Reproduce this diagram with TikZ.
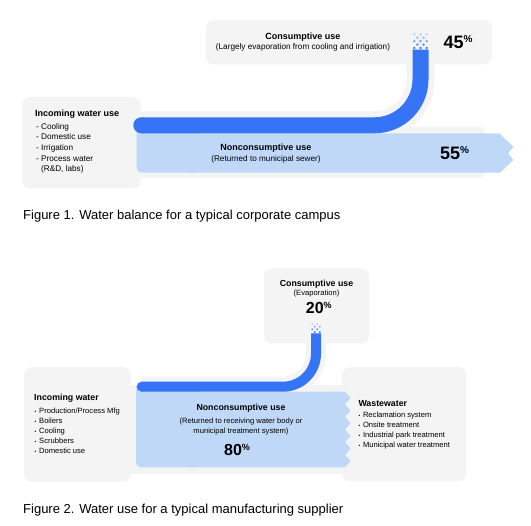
\documentclass[tikz,border=0pt]{standalone}
\usepackage{fontspec}
\setmainfont{Liberation Sans}
\definecolor{boxgray}{HTML}{F4F4F4}
\definecolor{lightblue}{HTML}{C0D8F8}
\definecolor{darkblue}{HTML}{3574F4}
\newcommand\fsz[1]{\fontsize{#1}{#1}\selectfont}
\begin{document}
\begin{tikzpicture}[x=1pt,y=-1pt,
  panel/.style={fill=boxgray, rounded corners=8pt, inner sep=0pt, anchor=north west},
  lbl/.style={inner sep=0pt, anchor=base west},
  ctr/.style={inner sep=0pt, anchor=base},
  ttl/.style={font=\fsz{9}\bfseries},
  sub/.style={font=\fsz{8.2}},
  ttltwo/.style={font=\fsz{8.8}\bfseries},
  subtwo/.style={font=\fsz{7.6}},
  figcap/.style={font=\fsz{13}},
  halo/.style={draw=boxgray, line width=#1},
  flow/.style={draw=darkblue, line width=#1}
]
\useasboundingbox (0,0) rectangle (531,526);
\fill[white] (0,0) rectangle (531,526);

% ================= Figure 1 =================
\coordinate (a1) at (141.3,125.3);
\coordinate (b1) at (374.5,125.3);
\coordinate (e1) at (420.5,79.3);
\coordinate (h1) at (420.5,60);
\coordinate (t1) at (420.5,49.7);
% gray bands / halos
\fill[boxgray, rounded corners=4pt] (130,126.7) rectangle (484,178);
\path[halo=28pt] (a1) -- (b1) .. controls (399.9,125.3) and (420.5,104.7) .. (e1) -- (h1);
% panels
\node[panel, minimum width=286pt, minimum height=44.3pt] (c1box) at (205.7,20) {};
\node[panel, minimum width=118.5pt, minimum height=91.6pt] (i1box) at (22,96.7) {};
% light blue flow
\fill[lightblue, rounded corners=5pt] (136.7,126) rectangle (200,172.7);
\fill[lightblue] (190,133.3) -- (499.3,133.3) -- (513.3,146.7) -- (508.3,153.5) -- (513.3,160) -- (500,172.7) -- (190,172.7) -- cycle;
% dark blue flow
\path[flow=16pt] (a1) -- (b1) .. controls (399.9,125.3) and (420.5,104.7) .. (e1) -- (t1);
\fill[darkblue] (a1) circle[radius=8pt];
% dither
\foreach \r in {0,...,4}{
  \foreach \k in {0,...,4}{
    \pgfmathtruncatemacro\chk{mod(\r+\k,2)}
    \pgfmathsetmacro\op{0.22+0.18*\r}
    \ifnum\chk=0
      \fill[darkblue, fill opacity=\op] (412.7+3.12*\k+1.56, 32.7+3.4*\r+1.7) circle[radius=1.45pt];
    \fi
  }
}
% texts
\node[ctr, ttl] (c1t) at (303,40) {Consumptive use};
\node[ctr, sub] (c1s) at (303,50) {(Largely evaporation from cooling and irrigation)};
\node[lbl] (c1p) at (443.3,48.3) {\fsz{18}\bfseries 45\raisebox{5.5pt}{\fsz{10}\%}};
\node[lbl, ttl] (i1t) at (35,116.7) {Incoming water use};
\foreach \t [count=\i from 0] in {Cooling, Domestic use, Irrigation, Process water}
  \node[lbl, sub] (i1b\i) at (36,129.3+10.6*\i) {\makebox[5pt][l]{-}\t};
\node[lbl, sub] (i1b4) at (41,171.7) {(R\&D, labs)};
\node[ctr, ttl] (n1t) at (266,150.7) {Nonconsumptive use};
\node[ctr, sub] (n1s) at (266,161.7) {(Returned to municipal sewer)};
\node[lbl] (n1p) at (440,159.3) {\fsz{18}\bfseries 55\raisebox{5.5pt}{\fsz{10}\%}};
\node[lbl, figcap] (cap1) at (23,219.3) {Figure 1. Water balance for a typical corporate campus};

% ================= Figure 2 =================
\coordinate (a2) at (141.7,386.7);
\coordinate (b2) at (283,386.7);
\coordinate (e2) at (316,353.7);
\coordinate (h2) at (316,335);
\coordinate (t2) at (316,333.3);
\fill[boxgray] (128,384.7) rectangle (344,474.5);
\path[halo=20pt] (a2) -- (b2) .. controls (301.2,386.7) and (316,371.9) .. (e2) -- (h2);
\node[panel, minimum width=105pt, minimum height=75pt] (c2box) at (264,268.3) {};
\node[panel, minimum width=106.7pt, minimum height=114.5pt] (i2box) at (24,367) {};
\node[panel, minimum width=124.5pt, minimum height=114pt] (w2box) at (341.7,367) {};
% light blue
\fill[lightblue, rounded corners=5pt] (136,384) rectangle (200,467.3);
\fill[lightblue] (190,391.7) -- (345,391.7)
  \foreach \j in {0,...,5}{ -- (350.5,391.7+12.6*\j+6.3) -- (345,391.7+12.6*\j+12.6) }
  -- (190,467.3) -- cycle;
% dark blue
\path[flow=10pt] (a2) -- (b2) .. controls (301.2,386.7) and (316,371.9) .. (e2) -- (t2);
\fill[darkblue] (a2) circle[radius=5pt];
\foreach \r in {0,...,3}{
  \foreach \k in {0,...,3}{
    \pgfmathtruncatemacro\chk{mod(\r+\k,2)}
    \pgfmathsetmacro\op{0.25+0.22*\r}
    \ifnum\chk=0
      \fill[darkblue, fill opacity=\op] (311+2.5*\k+1.25, 322.7+2.65*\r+1.32) circle[radius=1.1pt];
    \fi
  }
}
% texts
\node[ctr, ttltwo] (c2t) at (316.5,286.3) {Consumptive use};
\node[ctr, subtwo] (c2s) at (316.5,295.6) {(Evaporation)};
\node[lbl] (c2p) at (305.7,314) {\fsz{16}\bfseries 20\raisebox{5pt}{\fsz{9}\%}};
\node[lbl, ttltwo] (i2t) at (34,400.7) {Incoming water};
\foreach \t [count=\i from 0] in {Production/Process Mfg, Boilers, Cooling, Scrubbers, Domestic use}
  \node[lbl, subtwo] (i2b\i) at (34.5,413.3+10*\i) {\makebox[4.5pt][l]{\fsz{5}•}\t};
\node[ctr, ttltwo] (n2t) at (241,410.5) {Nonconsumptive use};
\node[ctr, subtwo] (n2s1) at (241,423.3) {(Returned to receiving water body or};
\node[ctr, subtwo] (n2s2) at (241,433.3) {municipal treatment system)};
\node[lbl] (n2p) at (224,456) {\fsz{16}\bfseries 80\raisebox{5pt}{\fsz{9}\%}};
\node[lbl, ttltwo] (w2t) at (358.3,406.3) {Wastewater};
\foreach \t [count=\i from 0] in {Reclamation system, Onsite treatment, Industrial park treatment, Municipal water treatment}
  \node[lbl, subtwo] (w2b\i) at (358.3,417.6+10*\i) {\makebox[4.5pt][l]{\fsz{5}•}\t};
\node[lbl, figcap] (cap2) at (23,513.3) {Figure 2. Water use for a typical manufacturing supplier};
\end{tikzpicture}
\end{document}
